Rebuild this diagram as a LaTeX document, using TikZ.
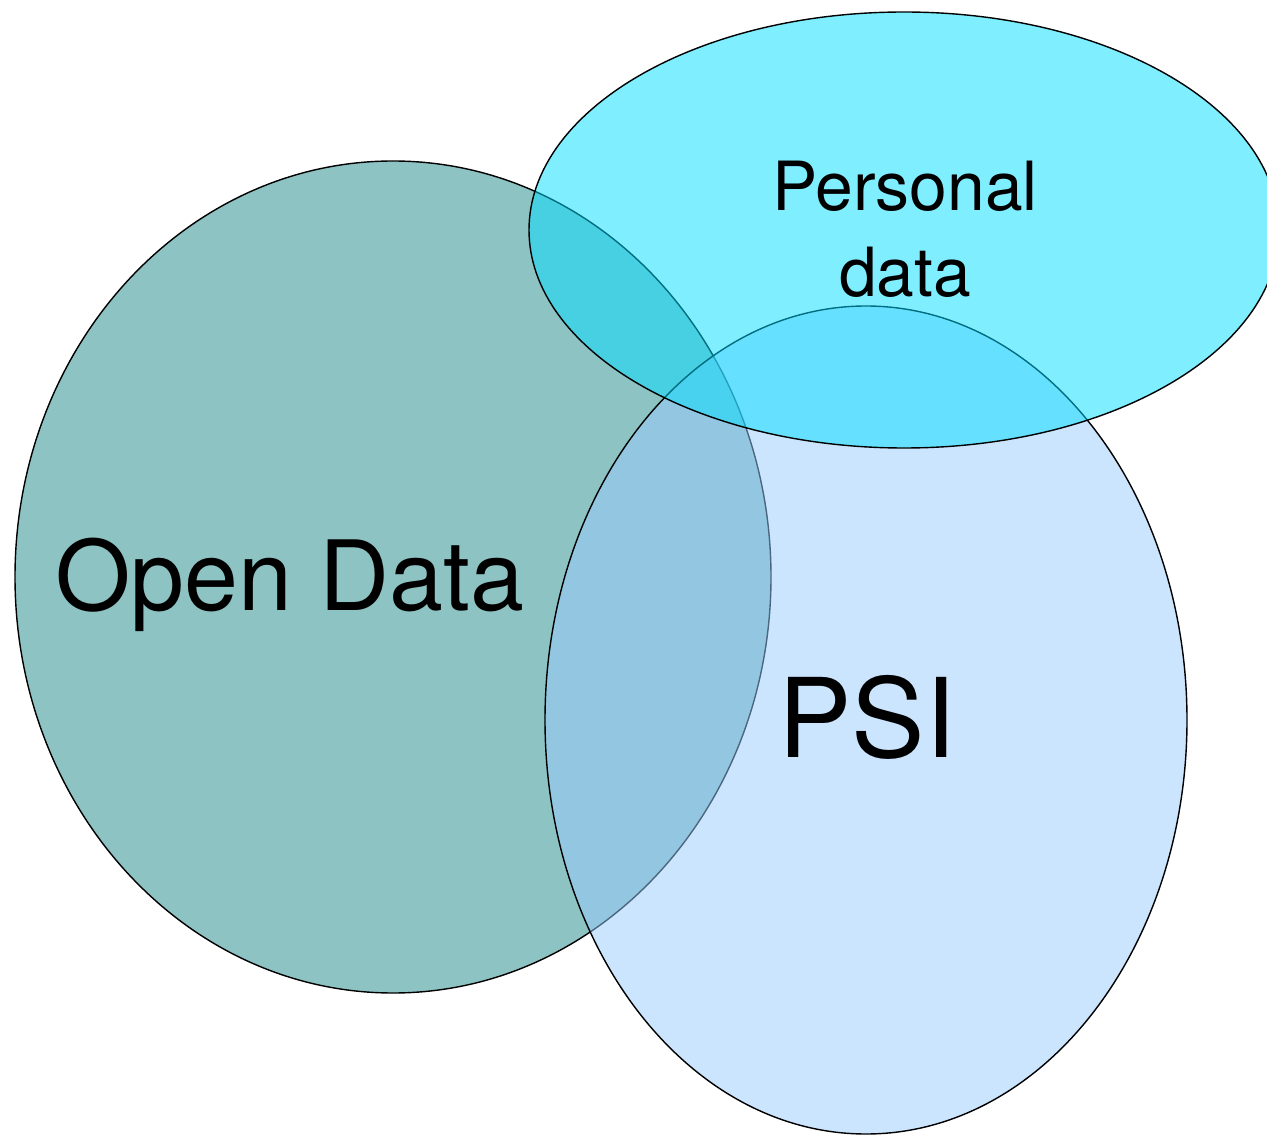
\documentclass[tikz,border=0pt]{standalone}
\usepackage{fontspec}
\setmainfont{TeX Gyre Heros}
\usetikzlibrary{shapes.geometric}

\definecolor{opencol}{RGB}{142,195,195}
\definecolor{psicol}{RGB}{153,204,255}
\definecolor{perscol}{RGB}{0,221,255}

\begin{document}
\begin{tikzpicture}[
    set/.style={ellipse,draw=black,line width=0.4pt,inner sep=0pt,outer sep=0pt},
    setlab/.style={anchor=base,inner sep=0pt,align=center}]
\useasboundingbox (0,0) rectangle (12.67,-11.35);
\clip (0,0) rectangle (12.67,-11.35);
% the three sets
\node[set,fill=opencol,minimum width=7.56cm,minimum height=8.32cm] (open) at (3.93,-5.77) {};
\node[set,fill=psicol,fill opacity=0.5,minimum width=6.42cm,minimum height=8.28cm] (psi) at (8.66,-7.20) {};
\node[set,fill=perscol,fill opacity=0.5,minimum width=7.50cm,minimum height=4.36cm] (pers) at (9.04,-2.30) {};
% their names
\node[setlab,font=\fontsize{27.6}{33}\selectfont] (openlab) at (2.90,-6.10) {Open Data};
\node[setlab,font=\fontsize{31.3}{37}\selectfont] (psilab) at (8.67,-7.57) {PSI};
\node[setlab,font=\fontsize{19.3}{24.5}\selectfont] (perslab) at (9.05,-2.97) {Personal\\data};
\end{tikzpicture}
\end{document}
